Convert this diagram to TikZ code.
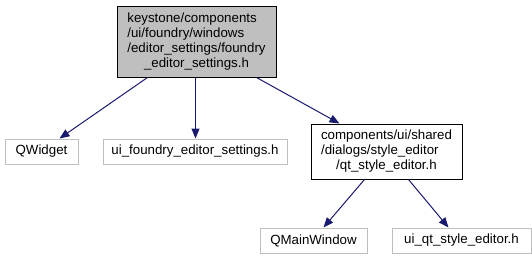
\documentclass[tikz,border=0pt]{standalone}
\usepackage{fontspec}
\setmainfont{Liberation Sans}
\usetikzlibrary{arrows.meta,calc}
\definecolor{edgeblue}{HTML}{191970}
\definecolor{boxgray}{HTML}{BFBFBF}
\tikzset{
  filebox/.style={draw=boxgray, fill=white, line width=1pt, inner sep=0pt,
    font=\fontsize{13.3}{15}\selectfont, text=black},
  mainbox/.style={draw=black, fill=boxgray, line width=1pt, inner sep=0pt,
    font=\fontsize{13.3}{15}\selectfont},
  incbox/.style={draw=black, fill=white, line width=1pt, inner sep=0pt,
    font=\fontsize{13.3}{15}\selectfont},
  dep/.style={draw=edgeblue, line width=1pt, -{Triangle[length=10pt,width=8pt]}, color=edgeblue}
}
\begin{document}
\begin{tikzpicture}[x=1pt,y=-1pt]
\useasboundingbox (0,0) rectangle (532,260);
\node[mainbox, minimum width=159pt, minimum height=71pt] (top) at (196.5,41.5)
  {\begin{tabular}{@{}l@{}}keystone/components\\/ui/foundry/windows\\/editor\_settings/foundry\\\multicolumn{1}{@{}c@{}}{\_editor\_settings.h}\end{tabular}};
\node[filebox, minimum width=73pt, minimum height=25pt] (qw) at (41.5,151.5) {QWidget};
\node[filebox, minimum width=184pt, minimum height=25pt] (uif) at (195,151.5) {ui\_foundry\_editor\_settings.h};
\node[incbox, minimum width=151pt, minimum height=55pt] (comp) at (386.5,151.5)
  {\begin{tabular}{@{}l@{}}components/ui/shared\\/dialogs/style\_editor\\\multicolumn{1}{@{}c@{}}{/qt\_style\_editor.h}\end{tabular}};
\node[filebox, minimum width=107pt, minimum height=25pt] (qmw) at (313.5,240.5) {QMainWindow};
\node[filebox, minimum width=139pt, minimum height=25pt] (uiqt) at (461.5,240.5) {ui\_qt\_style\_editor.h};
\draw[dep] ($(top.south west)+(31,0)$) -- ($(qw.north west)+(55,0)$);
\draw[dep] ($(top.south west)+(79,0)$) -- ($(uif.north west)+(93,0)$);
\draw[dep] ($(top.south west)+(140,0)$) -- ($(comp.north west)+(29,0)$);
\draw[dep] ($(comp.south west)+(54,0)$) -- ($(qmw.north west)+(64,0)$);
\draw[dep] ($(comp.south west)+(98,0)$) -- ($(uiqt.north west)+(57,0)$);
\end{tikzpicture}
\end{document}
